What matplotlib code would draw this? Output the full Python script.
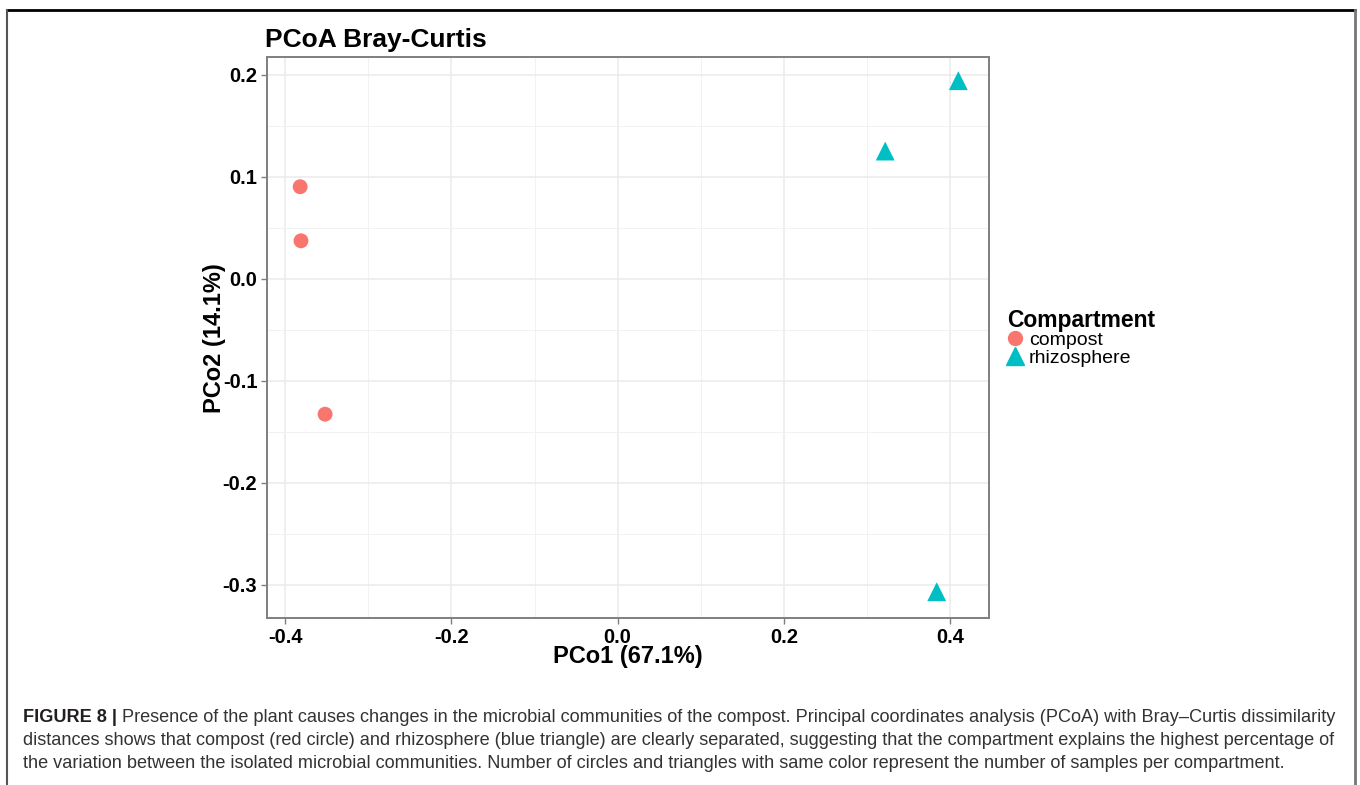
import matplotlib
matplotlib.use("Agg")
import matplotlib.pyplot as plt
from matplotlib.lines import Line2D

plt.rcParams['font.family'] = ['Liberation Sans', 'DejaVu Sans']

# ---- data ----
compost_x = [-0.382, -0.381, -0.352]
compost_y = [0.090, 0.037, -0.133]
rhizo_x = [0.410, 0.322, 0.384]
rhizo_y = [0.194, 0.125, -0.307]
groups = ["compost", "rhizosphere"]
xticks = [-0.4, -0.2, 0.0, 0.2, 0.4]
yticks = [-0.3, -0.2, -0.1, 0.0, 0.1, 0.2]
title = "PCoA Bray-Curtis"
xlabel = "PCo1 (67.1%)"
ylabel = "PCo2 (14.1%)"
legend_title = "Compartment"
cap_bold = "FIGURE 8 | "
cap_lines = [
    "Presence of the plant causes changes in the microbial communities of the compost. Principal coordinates analysis (PCoA) with Bray\u2013Curtis dissimilarity",
    "distances shows that compost (red circle) and rhizosphere (blue triangle) are clearly separated, suggesting that the compartment explains the highest percentage of",
    "the variation between the isolated microbial communities. Number of circles and triangles with same color represent the number of samples per compartment.",
]

W, H = 1360, 785
fig = plt.figure(figsize=(W / 100, H / 100), dpi=100)

def fx(px):
    return px / W

def fy(py):
    return 1 - py / H

L, R, T, B = 267, 989, 57, 618
ax = fig.add_axes([fx(L), fy(B), (R - L) / W, (B - T) / H])
ax.set_xlim(-0.4219, 0.4469)
ax.set_ylim(-0.3328, 0.2172)
ax.set_xticks(xticks)
ax.set_yticks(yticks)
ax.set_xticklabels([f"{v:.1f}" for v in xticks])
ax.set_yticklabels([f"{v:.1f}" for v in yticks])
ax.set_xticks([-0.3, -0.1, 0.1, 0.3], minor=True)
ax.set_yticks([-0.25, -0.15, -0.05, 0.05, 0.15], minor=True)
ax.grid(True, which='major', color='#EBEBEB', linewidth=1.1, zorder=0)
ax.grid(True, which='minor', color='#F2F2F2', linewidth=0.7, zorder=0)
ax.tick_params(which='minor', length=0)
ax.tick_params(which='major', length=4, width=1, color='#7F7F7F', pad=3,
               labelsize=14.5, labelcolor='black')
for lab in ax.get_xticklabels() + ax.get_yticklabels():
    lab.set_fontweight('bold')
for s in ax.spines.values():
    s.set_color('#7F7F7F')
    s.set_linewidth(1.4)
ax.set_axisbelow(True)

ax.scatter(compost_x, compost_y, s=115, marker='o', color='#F8766D',
           edgecolors='none', zorder=3, label=groups[0])
ax.scatter(rhizo_x, rhizo_y, s=185, marker='^', color='#00BFC4',
           edgecolors='none', zorder=3, label=groups[1])

fig.text(fx(265), fy(40), title, fontsize=19, fontweight='bold',
         ha='left', va='center')
fig.text(fx(628), fy(656), xlabel, fontsize=17, fontweight='bold',
         ha='center', va='center')
fig.text(fx(214), fy(338), ylabel, fontsize=17, fontweight='bold',
         ha='center', va='center', rotation=90)

handles = [Line2D([], [], marker='o', color='#F8766D', linestyle='none', markersize=10),
           Line2D([], [], marker='^', color='#00BFC4', linestyle='none', markersize=12.5)]
leg = fig.legend(handles, groups, loc='upper left',
                 bbox_to_anchor=(fx(994), fy(295)), frameon=False,
                 title=legend_title, fontsize=14, handlelength=0.8,
                 handletextpad=0.3, labelspacing=0.0, borderpad=0.2,
                 alignment='left')
leg.get_title().set_fontweight('bold')
leg.get_title().set_fontsize(16.5)

# frame around figure
fig.add_artist(Line2D([fx(7), fx(1355)], [fy(10), fy(10)], color='black', linewidth=2.0))
fig.add_artist(Line2D([fx(7), fx(7)], [fy(10), fy(800)], color='#555555', linewidth=1.5))
fig.add_artist(Line2D([fx(1355), fx(1355)], [fy(10), fy(800)], color='#777777', linewidth=2.0))

# caption
capsize = 13.1
cap_y = [722, 745, 768]
renderer = fig.canvas.get_renderer()
tb = fig.text(fx(23), fy(cap_y[0]), cap_bold, fontsize=capsize, fontweight='bold',
              color='#231F20', ha='left', va='baseline')
bb = tb.get_window_extent(renderer=renderer)
fig.text(bb.x1 / W, fy(cap_y[0]), cap_lines[0], fontsize=capsize,
         color='#333333', ha='left', va='baseline')
for i in (1, 2):
    fig.text(fx(23), fy(cap_y[i]), cap_lines[i], fontsize=capsize,
             color='#333333', ha='left', va='baseline')

fig.savefig("out.png", dpi=100)
